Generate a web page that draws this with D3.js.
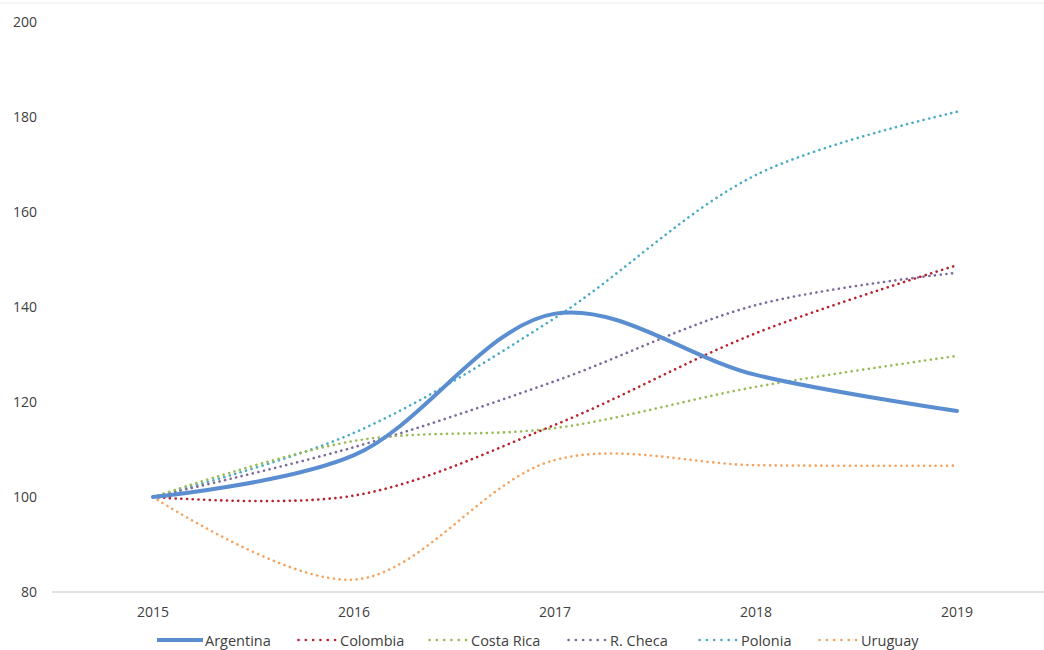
<!DOCTYPE html>
<html>
<head>
<meta charset="utf-8">
<script src="https://cdn.jsdelivr.net/npm/d3@7"></script>
<style>
  body { margin: 0; background: #fff; }
  text { font-family: "Open Sans", "Noto Sans", sans-serif; }
</style>
</head>
<body>
<svg width="1044" height="650"></svg>
<script>
var years = ['2015', '2016', '2017', '2018', '2019'];
var yTicks = [80, 100, 120, 140, 160, 180, 200];

var argentina = [100, 108.8, 138.6, 125.7, 118.1];
var colombia = [100, 100.3, 115.2, 134.5, 148.8];
var costaRica = [100, 111.8, 114.5, 123.2, 129.7];
var rCheca = [100, 110.5, 124.4, 140.4, 147.2];
var polonia = [100, 113.5, 137.7, 167.8, 181.1];
var uruguay = [100, 82.6, 107.8, 106.7, 106.6];

var names = ['Argentina', 'Colombia', 'Costa Rica', 'R. Checa', 'Polonia', 'Uruguay'];
var colors = ['#5b8ed1', '#b8232f', '#9bbb59', '#7d6a9c', '#4bacc6', '#f4a460'];

var series = [argentina, colombia, costaRica, rCheca, polonia, uruguay].map(function(v, i) {
  return { name: names[i], values: v, color: colors[i], solid: i == 0 };
});

var svg = d3.select('svg');

var x = d3.scalePoint()
  .domain(years)
  .range([153, 957]);
var y = d3.scaleLinear()
  .domain([80, 200])
  .range([592, 22]);

// top border line
svg.append('line')
  .attr('x1', 0).attr('x2', 1044)
  .attr('y1', 3).attr('y2', 3)
  .style('stroke', '#ececec');

// y labels
svg.selectAll('.ylab')
  .data(yTicks)
  .enter()
  .append('text')
  .attr('class', 'ylab')
  .attr('x', 37)
  .attr('y', function(d) { return y(d) + 5; })
  .attr('text-anchor', 'end')
  .style('font-size', '14px')
  .style('fill', '#404040')
  .text(function(d) { return d; });

// base axis line
svg.append('line')
  .attr('x1', 52).attr('x2', 1044)
  .attr('y1', y(80)).attr('y2', y(80))
  .style('stroke', '#d9d9d9')
  .style('stroke-width', 1.5);

// x labels
svg.selectAll('.xlab')
  .data(years)
  .enter()
  .append('text')
  .attr('class', 'xlab')
  .attr('x', function(d) { return x(d); })
  .attr('y', 617)
  .attr('text-anchor', 'middle')
  .style('font-size', '14px')
  .style('fill', '#404040')
  .text(function(d) { return d; });

var line = d3.line()
  .x(function(d, i) { return x(years[i]); })
  .y(function(d) { return y(d); })
  .curve(d3.curveCatmullRom.alpha(0.5));

// draw dotted first, argentina on top
var order = [5, 4, 3, 2, 1, 0];
order.forEach(function(k) {
  var s = series[k];
  svg.append('path')
    .datum(s.values)
    .attr('d', line)
    .style('fill', 'none')
    .style('stroke', s.color)
    .style('stroke-width', s.solid ? 4 : 2.6)
    .style('stroke-dasharray', s.solid ? null : '0.1 5.6')
    .style('stroke-linecap', 'round');
});

// legend
var legendX = [157, 297, 428, 567, 698, 818];
var legend = svg.selectAll('.leg')
  .data(series)
  .enter()
  .append('g')
  .attr('class', 'leg')
  .attr('transform', function(d, i) { return 'translate(' + legendX[i] + ',640)'; });
legend.append('line')
  .attr('x1', function(d) { return d.solid ? 0 : 1.5; })
  .attr('x2', function(d) { return d.solid ? 46 : 39; })
  .attr('y1', 0).attr('y2', 0)
  .style('stroke', function(d) { return d.color; })
  .style('stroke-width', function(d) { return d.solid ? 4 : 2.6; })
  .style('stroke-dasharray', function(d) { return d.solid ? null : '0.1 7.2'; })
  .style('stroke-linecap', function(d) { return d.solid ? 'butt' : 'round'; });
legend.append('text')
  .attr('x', function(d) { return d.solid ? 48 : 43; })
  .attr('y', 5.5)
  .style('font-size', '14.5px')
  .style('fill', '#404040')
  .text(function(d) { return d.name; });
</script>
</body>
</html>
